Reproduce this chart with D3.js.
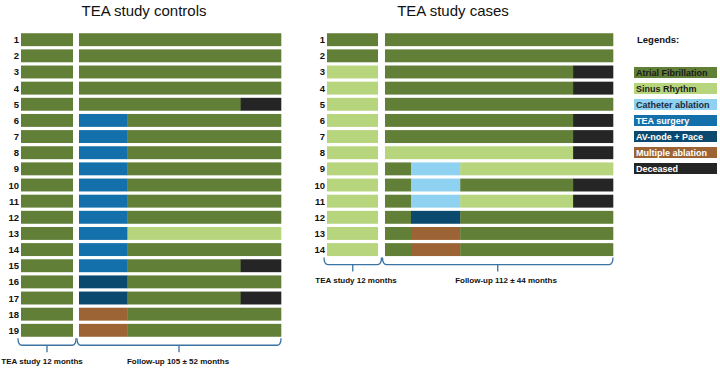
<!DOCTYPE html>
<html>
<head>
<meta charset="utf-8">
<script src="https://cdn.jsdelivr.net/npm/d3@7"></script>
<style>
  body { margin: 0; background: #ffffff; }
  svg { display: block; font-family: "Liberation Sans", Arial, sans-serif; }
</style>
</head>
<body>
<svg id="chart" width="720" height="369"></svg>
<script>
// states used in the timelines
const stateKeys = ["AF", "SR", "CA", "TEA", "AV", "MA", "DEC"];
const legendLabels = ["Atrial Fibrillation", "Sinus Rhythm", "Catheter ablation", "TEA surgery",
  "AV-node + Pace", "Multiple ablation", "Deceased"];

// controls
const controlIds = ["1","2","3","4","5","6","7","8","9","10","11","12","13","14","15","16","17","18","19"];
const controlStudy = ["AF","AF","AF","AF","AF","AF","AF","AF","AF","AF","AF","AF","AF","AF","AF","AF","AF","AF","AF"];
// follow-up segments: [state, start, end] as share of follow-up
const controlFollow = [
  [["AF", 0, 1]],
  [["AF", 0, 1]],
  [["AF", 0, 1]],
  [["AF", 0, 1]],
  [["AF", 0, 0.80], ["DEC", 0.80, 1]],
  [["TEA", 0, 0.24], ["AF", 0.24, 1]],
  [["TEA", 0, 0.24], ["AF", 0.24, 1]],
  [["TEA", 0, 0.24], ["AF", 0.24, 1]],
  [["TEA", 0, 0.24], ["AF", 0.24, 1]],
  [["TEA", 0, 0.24], ["AF", 0.24, 1]],
  [["TEA", 0, 0.24], ["AF", 0.24, 1]],
  [["TEA", 0, 0.24], ["AF", 0.24, 1]],
  [["TEA", 0, 0.24], ["SR", 0.24, 1]],
  [["TEA", 0, 0.24], ["AF", 0.24, 1]],
  [["TEA", 0, 0.24], ["AF", 0.24, 0.80], ["DEC", 0.80, 1]],
  [["AV", 0, 0.24], ["AF", 0.24, 1]],
  [["AV", 0, 0.24], ["AF", 0.24, 0.80], ["DEC", 0.80, 1]],
  [["MA", 0, 0.24], ["AF", 0.24, 1]],
  [["MA", 0, 0.24], ["AF", 0.24, 1]]
];

// cases
const caseIds = ["1","2","3","4","5","6","7","8","9","10","11","12","13","14"];
const caseStudy = ["AF","AF","SR","SR","SR","SR","SR","SR","SR","SR","SR","SR","SR","SR"];
const caseFollow = [
  [["AF", 0, 1]],
  [["AF", 0, 1]],
  [["AF", 0, 0.825], ["DEC", 0.825, 1]],
  [["AF", 0, 0.825], ["DEC", 0.825, 1]],
  [["AF", 0, 1]],
  [["AF", 0, 0.825], ["DEC", 0.825, 1]],
  [["AF", 0, 0.825], ["DEC", 0.825, 1]],
  [["SR", 0, 0.825], ["DEC", 0.825, 1]],
  [["AF", 0, 0.114], ["CA", 0.114, 0.33], ["SR", 0.33, 1]],
  [["AF", 0, 0.114], ["CA", 0.114, 0.33], ["AF", 0.33, 0.825], ["DEC", 0.825, 1]],
  [["AF", 0, 0.114], ["CA", 0.114, 0.33], ["SR", 0.33, 0.825], ["DEC", 0.825, 1]],
  [["AF", 0, 0.114], ["AV", 0.114, 0.33], ["AF", 0.33, 1]],
  [["AF", 0, 0.114], ["MA", 0.114, 0.33], ["AF", 0.33, 1]],
  [["AF", 0, 0.114], ["MA", 0.114, 0.33], ["AF", 0.33, 1]]
];

const color = d3.scaleOrdinal()
  .domain(stateKeys)
  .range(["#617f37", "#b6d57d", "#8fd1f1", "#1470ab", "#0b4a6e", "#9c6434", "#252525"]);
const legendText = d3.scaleOrdinal()
  .domain(stateKeys)
  .range(["#1a1a1a", "#1a1a1a", "#1a2a40", "#ffffff", "#ffffff", "#ffffff", "#ffffff"]);

const svg = d3.select("#chart");
const braceColor = "#3b73a3";

function bracePath(x0, x1, y0, ym) {
  return "M" + x0 + "," + y0 +
    " Q" + x0 + "," + ym + " " + (x0 + 4) + "," + ym +
    " L" + (x1 - 4) + "," + ym +
    " Q" + x1 + "," + ym + " " + x1 + "," + y0;
}

function drawPanel(cfg) {
  const g = svg.append("g");
  const y = d3.scaleBand().domain(cfg.ids).range(cfg.yRange).padding(0.2);
  const xStudy = d3.scaleLinear().domain([0, 12]).range(cfg.studyRange);
  const xFollow = d3.scaleLinear().domain([0, 1]).range(cfg.followRange);

  g.append("text")
    .attr("x", cfg.titleX).attr("y", 16)
    .attr("text-anchor", "middle")
    .style("font-size", "15px")
    .style("fill", "#111")
    .text(cfg.title);

  // row labels
  g.selectAll(".rowlab").data(cfg.ids).join("text")
    .attr("x", cfg.studyRange[0] - 2)
    .attr("y", d => y(d) + y.bandwidth() / 2 + 3.5)
    .attr("text-anchor", "end")
    .style("font-size", "9.5px")
    .style("font-weight", "bold")
    .style("fill", "#111")
    .text(d => d);

  // study period bars
  g.selectAll(".study").data(cfg.ids).join("rect")
    .attr("x", xStudy(0))
    .attr("y", d => y(d))
    .attr("width", xStudy(12) - xStudy(0))
    .attr("height", y.bandwidth())
    .attr("fill", (d, i) => color(cfg.study[i]));

  // follow-up segments
  const segs = [];
  cfg.follow.forEach((row, i) => row.forEach(s => segs.push({id: cfg.ids[i], state: s[0], a: s[1], b: s[2]})));
  g.selectAll(".seg").data(segs).join("rect")
    .attr("x", d => xFollow(d.a))
    .attr("y", d => y(d.id))
    .attr("width", d => xFollow(d.b) - xFollow(d.a) + 0.3)
    .attr("height", y.bandwidth())
    .attr("fill", d => color(d.state));

  // braces
  const lastBottom = y(cfg.ids[cfg.ids.length - 1]) + y.bandwidth();
  const y0 = lastBottom + 1.5, ym = lastBottom + 8.5, yt = ym + 7;
  const braces = [
    {x0: cfg.studyRange[0] - 3, x1: (cfg.studyRange[1] + cfg.followRange[0]) / 2, label: cfg.studyLabel, lx: cfg.studyLabelX},
    {x0: (cfg.studyRange[1] + cfg.followRange[0]) / 2 + 1, x1: cfg.followRange[1], label: cfg.followLabel, lx: cfg.followLabelX}
  ];
  braces.forEach(b => {
    const xm = (b.x0 + b.x1) / 2;
    g.append("path")
      .attr("d", bracePath(b.x0, b.x1, y0, ym))
      .attr("fill", "none")
      .attr("stroke", braceColor)
      .attr("stroke-width", 1.3);
    g.append("line")
      .attr("x1", xm).attr("x2", xm)
      .attr("y1", ym).attr("y2", yt)
      .attr("stroke", braceColor)
      .attr("stroke-width", 1.3);
    g.append("text")
      .attr("x", b.lx)
      .attr("y", yt + cfg.labelGap)
      .attr("text-anchor", "middle")
      .style("font-size", "8px")
      .style("font-weight", "bold")
      .style("fill", "#111")
      .text(b.label);
  });
}

drawPanel({
  title: "TEA study controls", titleX: 144,
  ids: controlIds, study: controlStudy, follow: controlFollow,
  yRange: [30, 340], studyRange: [21, 73], followRange: [79, 281],
  studyLabel: "TEA study 12 months", studyLabelX: 42,
  followLabel: "Follow-up 105 \u00b1 52 months", followLabelX: 178,
  labelGap: 12
});

drawPanel({
  title: "TEA study cases", titleX: 453,
  ids: caseIds, study: caseStudy, follow: caseFollow,
  yRange: [30, 259.3], studyRange: [327, 378], followRange: [385, 613],
  studyLabel: "TEA study 12 months", studyLabelX: 356,
  followLabel: "Follow-up 112 \u00b1 44 months", followLabelX: 506,
  labelGap: 11
});

// legend
const legend = svg.append("g");
legend.append("text")
  .attr("x", 637).attr("y", 43)
  .style("font-size", "9.5px")
  .style("font-weight", "bold")
  .style("fill", "#111")
  .text("Legends:");

const ly = d3.scaleBand().domain(stateKeys).range([67, 174]).paddingInner(0.3125).paddingOuter(0);
legend.selectAll(".lbox").data(stateKeys).join("rect")
  .attr("x", 634).attr("y", d => ly(d))
  .attr("width", 83).attr("height", ly.bandwidth())
  .attr("fill", d => color(d));
legend.selectAll(".ltxt").data(stateKeys).join("text")
  .attr("x", 636).attr("y", d => ly(d) + ly.bandwidth() / 2 + 3.4)
  .style("font-size", "9px")
  .style("font-weight", "bold")
  .style("fill", d => legendText(d))
  .text((d, i) => legendLabels[i]);
</script>
</body>
</html>
